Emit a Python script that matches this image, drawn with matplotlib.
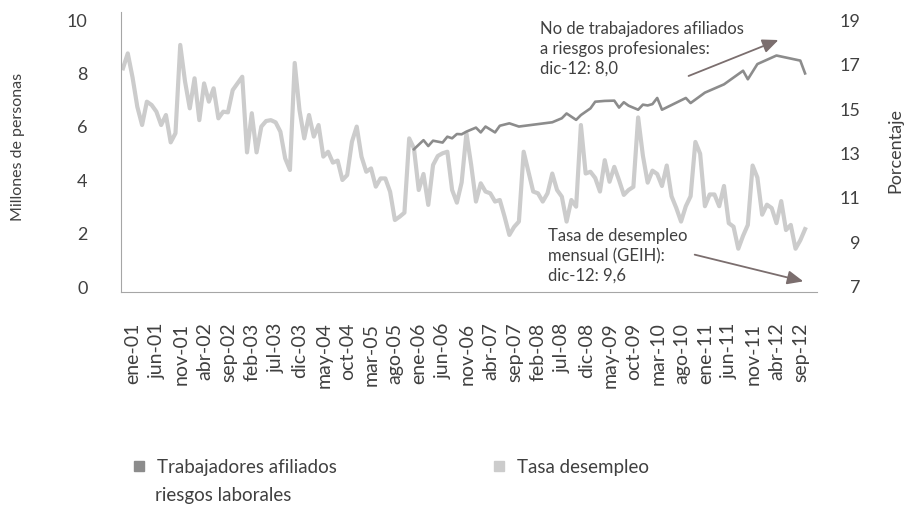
import matplotlib
matplotlib.use("Agg")
import matplotlib.pyplot as plt
from matplotlib.lines import Line2D
from matplotlib.patches import FancyArrowPatch
from matplotlib.transforms import ScaledTranslation

# ---------------- data ----------------
meses = ['ene', 'feb', 'mar', 'abr', 'may', 'jun', 'jul', 'ago', 'sep', 'oct', 'nov', 'dic']
anios = list(range(2001, 2013))
categorias = [f"{m}-{a % 100:02d}" for a in anios for m in meses]

tick_labels = ['ene-01', 'jun-01', 'nov-01', 'abr-02', 'sep-02', 'feb-03', 'jul-03', 'dic-03',
               'may-04', 'oct-04', 'mar-05', 'ago-05', 'ene-06', 'jun-06', 'nov-06', 'abr-07',
               'sep-07', 'feb-08', 'jul-08', 'dic-08', 'may-09', 'oct-09', 'mar-10', 'ago-10',
               'ene-11', 'jun-11', 'nov-11', 'abr-12', 'sep-12']

# Tasa de desempleo mensual (%), ene-01 ... dic-12
desempleo = [16.83, 17.50, 16.42, 15.10, 14.28, 15.33, 15.18, 14.88, 14.28, 14.73, 13.50, 13.91,
             17.88, 16.24, 15.03, 16.38, 14.50, 16.15, 15.33, 15.93, 14.58, 14.88, 14.85, 15.85,
             16.15, 16.45, 13.05, 14.81, 13.05, 14.21, 14.46, 14.50, 14.40, 13.98, 12.78, 12.26,
             17.07, 14.95, 13.68, 14.73, 13.76, 14.28, 12.86, 13.08, 12.59, 12.68, 11.81, 12.03,
             13.53, 14.21, 12.86, 12.18, 12.33, 11.51, 11.88, 11.88, 11.28, 10.01, 10.16, 10.34,
             13.68, 13.23, 11.36, 12.08, 10.69, 12.48, 12.89, 13.01, 13.08, 11.36, 10.79, 11.70,
             13.91, 12.48, 10.84, 11.66, 11.29, 11.21, 10.84, 10.91, 10.16, 9.34, 9.70, 9.94,
             13.08, 12.18, 11.29, 11.21, 10.84, 11.21, 12.10, 11.36, 11.06, 9.94, 10.91, 10.61,
             14.28, 12.10, 12.18, 11.90, 11.29, 12.70, 11.73, 12.40, 11.80, 11.14, 11.36, 11.50,
             14.62, 12.90, 11.69, 12.23, 12.08, 11.54, 12.46, 11.08, 10.55, 9.94, 10.63, 11.08,
             13.52, 12.99, 10.63, 11.16, 11.16, 10.63, 11.54, 9.87, 9.71, 8.72, 9.30, 9.79,
             12.46, 11.92, 10.25, 10.70, 10.55, 9.87, 10.86, 9.56, 9.79, 8.72, 9.10, 9.60]

# Trabajadores afiliados a riesgos profesionales (millones)
afiliados_mes = ['feb-06', 'abr-06', 'may-06', 'jun-06', 'ago-06', 'sep-06', 'oct-06', 'nov-06',
                 'dic-06', 'ene-07', 'mar-07', 'abr-07', 'may-07', 'jul-07', 'ago-07', 'oct-07',
                 'dic-07', 'jul-08', 'sep-08', 'oct-08', 'dic-08', 'ene-09', 'mar-09', 'abr-09',
                 'jun-09', 'ago-09', 'sep-09', 'oct-09', 'nov-09', 'ene-10', 'feb-10', 'mar-10',
                 'abr-10', 'may-10', 'jun-10', 'nov-10', 'dic-10', 'mar-11', 'jul-11', 'nov-11',
                 'dic-11', 'feb-12', 'jun-12', 'nov-12', 'dic-12']
afiliados = [5.16, 5.50, 5.28, 5.48, 5.41, 5.63, 5.57, 5.73, 5.72, 5.82, 5.97, 5.79, 6.01, 5.79,
             6.04, 6.13, 6.01, 6.17, 6.32, 6.50, 6.26, 6.44, 6.69, 6.94, 6.97, 6.98, 6.72, 6.92,
             6.79, 6.64, 6.83, 6.80, 6.85, 7.08, 6.64, 7.08, 6.89, 7.28, 7.59, 8.10, 7.78, 8.35,
             8.67, 8.48, 8.00]

left_ticks = [0, 2, 4, 6, 8, 10]
right_ticks = [7, 9, 11, 13, 15, 17, 19]

# ---------------- styling ----------------
FONT = ['Lato', 'DejaVu Sans']
plt.rcParams['font.family'] = FONT
TXT = '#404040'
C_AFIL = '#8c8c8c'
C_DES = '#cccccc'
ARROW = '#7b6e6e'

W, H = 906, 514
fig = plt.figure(figsize=(W / 100, H / 100), dpi=100)
ax = fig.add_axes([121 / W, 1 - 292 / H, (817 - 121) / W, (292 - 12) / H])
ax2 = ax.twinx()

x_des = list(range(len(categorias)))
x_afil = [categorias.index(m) for m in afiliados_mes]

ax2.plot(x_des, desempleo, color=C_DES, lw=3.0)
ax.plot(x_afil, afiliados, color=C_AFIL, lw=1.9)
ax.set_zorder(ax2.get_zorder() + 1)
ax.patch.set_visible(False)

ax.set_xlim(-0.42, 145.5)
ax.set_ylim(-0.187, 10.30)
ax2.set_ylim(6.775, 19.36)

ax.set_yticks(left_ticks)
ax.set_yticklabels([str(t) for t in left_ticks])
ax2.set_yticks(right_ticks)
ax2.set_yticklabels([str(t) for t in right_ticks])

tick_pos = [categorias.index(t) for t in tick_labels]
ax.set_xticks(tick_pos)
ax.set_xticklabels(tick_labels, rotation=90, va='top', ha='center')

ax.tick_params(axis='y', length=0, pad=24, labelsize=13, labelcolor=TXT)
ax.tick_params(axis='x', length=0, pad=22, labelsize=14, labelcolor=TXT)
ax2.tick_params(axis='y', length=0, pad=31, labelsize=13, labelcolor=TXT)
for lab in ax2.get_yticklabels():
    lab.set_ha('right')
off = ScaledTranslation(10 / 100, 0, fig.dpi_scale_trans)
for lab in ax.get_xticklabels():
    lab.set_transform(lab.get_transform() + off)

for a in (ax, ax2):
    for s in ['top', 'right', 'left', 'bottom']:
        a.spines[s].set_visible(False)
ax.spines['left'].set_visible(True)
ax.spines['bottom'].set_visible(True)
ax.spines['left'].set_color('#a6a6a6')
ax.spines['bottom'].set_color('#a6a6a6')

# axis titles
fig.text(18 / W, 1 - 147 / H, 'Millones de personas', rotation=90, ha='center', va='center',
         fontsize=11.5, color=TXT)
fig.text(895 / W, 1 - 150 / H, 'Porcentaje', rotation=90, ha='center', va='center',
         fontsize=13, color=TXT)

# annotations
fig.text(540 / W, 1 - 49 / H, 'No de trabajadores afiliados\na riesgos profesionales:\ndic-12: 8,0',
         ha='left', va='center', fontsize=12, color=TXT, linespacing=1.3)
fig.text(548 / W, 1 - 256 / H, 'Tasa de desempleo\nmensual (GEIH):\ndic-12: 9,6',
         ha='left', va='center', fontsize=12, color=TXT, linespacing=1.3)

arrow_kw = dict(arrowstyle='-|>,head_length=0.8,head_width=0.35', color=ARROW, lw=1.3,
                transform=fig.transFigure, mutation_scale=12)
fig.add_artist(FancyArrowPatch((686 / W, 1 - 77 / H), (781 / W, 1 - 39 / H), **arrow_kw))
fig.add_artist(FancyArrowPatch((692 / W, 1 - 254 / H), (806 / W, 1 - 282 / H), **arrow_kw))

# legend
h1 = Line2D([], [], marker='s', color='none', markerfacecolor=C_AFIL, markeredgecolor=C_AFIL,
            markersize=7)
h2 = Line2D([], [], marker='s', color='none', markerfacecolor=C_DES, markeredgecolor=C_DES,
            markersize=7)
leg_kw = dict(frameon=False, fontsize=13.5, labelcolor=TXT, handlelength=0.8, handletextpad=0.6,
              borderpad=0, borderaxespad=0)
fig.legend([h1], ['Trabajadores afiliados'], loc='center left',
           bbox_to_anchor=(131 / W, 1 - 467 / H), **leg_kw)
fig.text(155 / W, 1 - 496 / H, 'riesgos laborales', ha='left', va='center', fontsize=13.5,
         color=TXT)
fig.legend([h2], ['Tasa desempleo'], loc='center left',
           bbox_to_anchor=(491 / W, 1 - 467 / H), **leg_kw)

fig.savefig('out.png', dpi=100)
